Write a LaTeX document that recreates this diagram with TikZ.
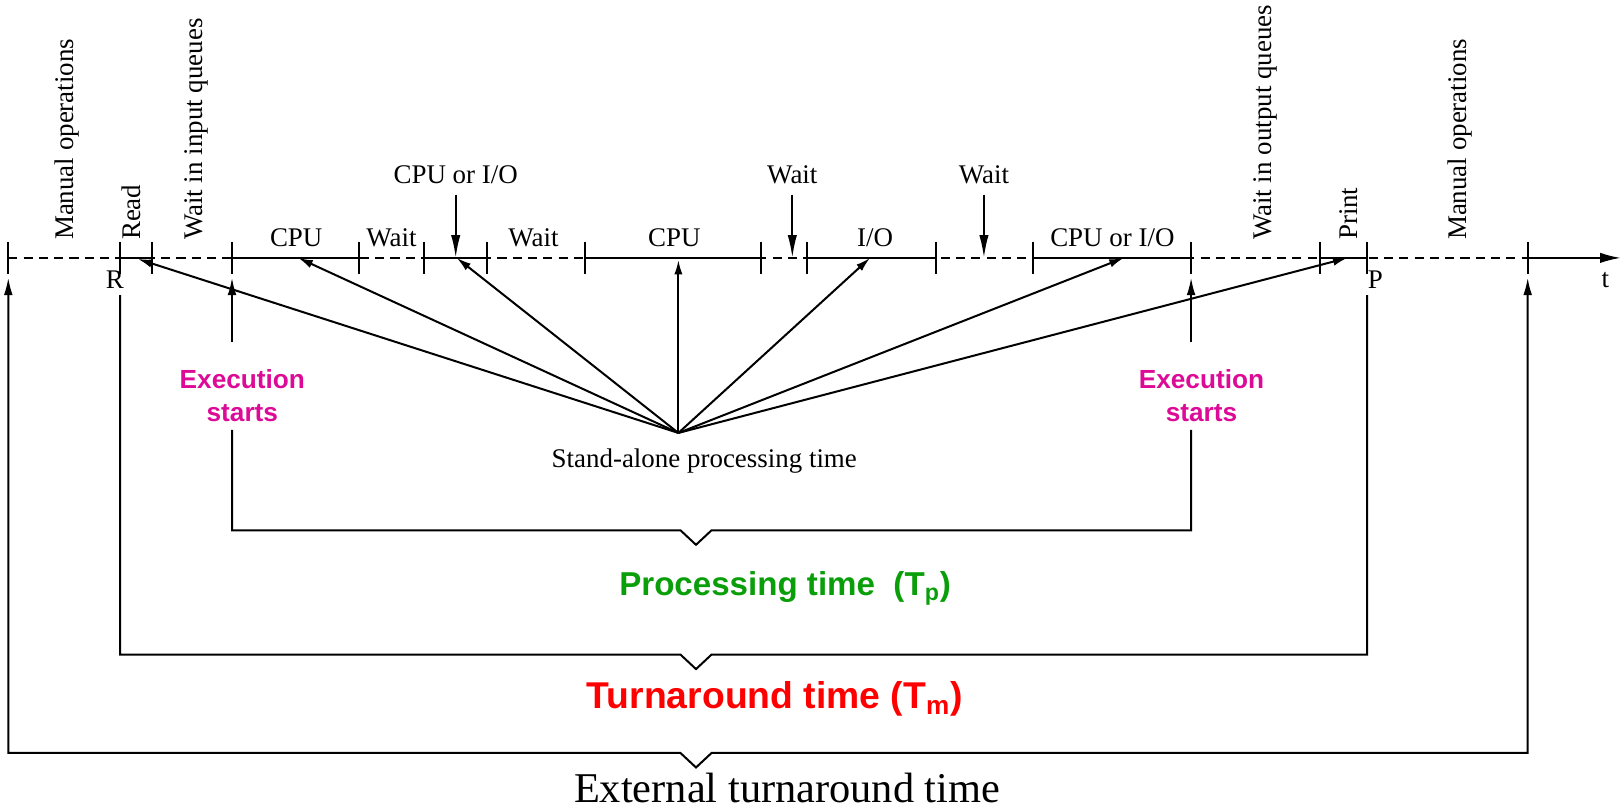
\documentclass[tikz,border=0pt]{standalone}
\usepackage{fontspec}
\setmainfont{Liberation Serif}
\newfontfamily\sansb{Liberation Sans}
\usetikzlibrary{arrows.meta}
\definecolor{magentaX}{RGB}{220,10,150}
\definecolor{greenX}{RGB}{10,158,10}
\definecolor{redX}{RGB}{255,0,0}
\tikzset{
 px/.style={x=0.02cm,y=-0.02cm},
 ln/.style={line width=1.1pt},
 dsh/.style={line width=1.1pt, dash pattern=on 5pt off 3.4pt},
 tm/.style={font=\fontsize{14.8}{17}\selectfont, inner sep=0pt},
 vlab/.style={tm, rotate=90, anchor=west},
 ray/.style={ln, -{Latex[length=0.28cm,width=0.16cm]}},
 uparr/.style={ln, -{Latex[length=0.34cm,width=0.17cm]}},
 downarr/.style={ln, -{Latex[length=0.44cm,width=0.18cm]}},
 axarr/.style={ln, -{Latex[length=0.4cm,width=0.2cm]}},
 execlab/.style={font=\sansb\bfseries\fontsize{14.4}{18.2}\selectfont, text=magentaX, align=center, inner sep=0pt},
}
\begin{document}
\begin{tikzpicture}[px]
\useasboundingbox (0,0) rectangle (1568,782);
% time line ticks
\foreach \n/\x in {0/8,1/116,2/147,3/224,4/347,5/409,6/470,7/565,8/735,9/779,10/904,11/997,12/1150,13/1274,14/1320,15/1475} {
  \coordinate (t\n) at (\x,249);
  \coordinate (tb\n) at (\x,268);
  \draw[ln] (\x,234) -- (\x,265);
}
\coordinate (tend) at (1565,249);
\draw[dsh] (t0) -- (t15);
\draw[ln] (t1) -- (t2);
\draw[ln] (t3) -- (t4);
\draw[ln] (t5) -- (t6);
\draw[ln] (t7) -- (t8);
\draw[ln] (t9) -- (t10);
\draw[ln] (t11) -- (t12);
\draw[ln] (t13) -- (t14);
\draw[axarr] (t15) -- (tend);

% segment labels
\node[tm, anchor=base] (s1) at (286,238) {CPU};
\node[tm, anchor=base] (s2) at (378,238) {Wait};
\node[tm, anchor=base] (s3) at (515,238) {Wait};
\node[tm, anchor=base] (s4) at (651,238) {CPU};
\node[tm, anchor=base] (s5) at (845,238) {I/O};
\node[tm, anchor=base] (s6) at (1074,238) {CPU or I/O};

% upper labels with arrows
\node[tm, anchor=base] (u1) at (440,177) {CPU or I/O};
\node[tm, anchor=base] (u2) at (765,177) {Wait};
\node[tm, anchor=base] (u3) at (950,177) {Wait};
\coordinate (d1) at (440,249);
\coordinate (d2) at (765,249);
\coordinate (d3) at (950,249);
\draw[downarr] (440,188) -- (d1);
\draw[downarr] (765,188) -- (d2);
\draw[downarr] (950,188) -- (d3);

% rotated labels
\node[vlab] (m1) at (65,232) {Manual operations};
\node[vlab] (rd) at (127,232) {Read};
\node[vlab] (wi) at (190,232) {Wait in input queues};
\node[vlab] (wo) at (1222,232) {Wait in output queues};
\node[vlab] (pr) at (1302,232) {Print};
\node[vlab] (m2) at (1410,232) {Manual operations};

% R, P, t
\node[tm] (R) at (111,270) {R};
\node[tm] (P) at (1328,270) {P};
\node[tm] (T) at (1550,270) {t};

% stand-alone processing rays
\coordinate (sa) at (655,418);
\node[tm] (salab) at (680,445) {Stand-alone processing time};
\coordinate (r1) at (133,250);
\coordinate (r2) at (288,249);
\coordinate (r3) at (441,249);
\coordinate (r4) at (655,251);
\coordinate (r5) at (840,249);
\coordinate (r6) at (1085,249);
\coordinate (r7) at (1301,249);
\foreach \r in {r1,r2,r3,r4,r5,r6,r7} \draw[ray] (sa) -- (\r);

% execution starts
\node[execlab] (ex1) at (234,382) {Execution\\starts};
\node[execlab] (ex2) at (1160,382) {Execution\\starts};
\coordinate (ex1t) at (224,330);
\coordinate (ex1b) at (224,415);
\coordinate (ex2t) at (1150,330);
\coordinate (ex2b) at (1150,415);
\draw[uparr] (ex1t) -- (tb3);
\draw[uparr] (ex2t) -- (tb12);

% processing bracket
\draw[ln] (ex1b) -- (224,512) -- (657,512) -- (672,526) -- (687,512) -- (1150,512) -- (ex2b);
\node[font=\sansb\bfseries\fontsize{18.2}{20}\selectfont, text=greenX] (proc) at (758,568) {Processing time\ \ (T\textsubscript{p})};

% turnaround bracket
\coordinate (Rb) at (116,285);
\coordinate (Pb) at (1320,285);
\draw[ln] (Rb) -- (116,632) -- (657,632) -- (672,646) -- (687,632) -- (1320,632) -- (Pb);
\node[font=\sansb\bfseries\fontsize{20.5}{22}\selectfont, text=redX] (turn) at (748,675) {Turnaround time (T\textsubscript{m})};

% external bracket
\draw[ln, {Latex[length=0.34cm,width=0.17cm]}-{Latex[length=0.34cm,width=0.17cm]}] (tb0) -- (8,727) -- (657,727) -- (672,741) -- (687,727) -- (1475,727) -- (tb15);
\node[font=\fontsize{23.3}{26}\selectfont] (ext) at (760,761) {External turnaround time};
\end{tikzpicture}
\end{document}
